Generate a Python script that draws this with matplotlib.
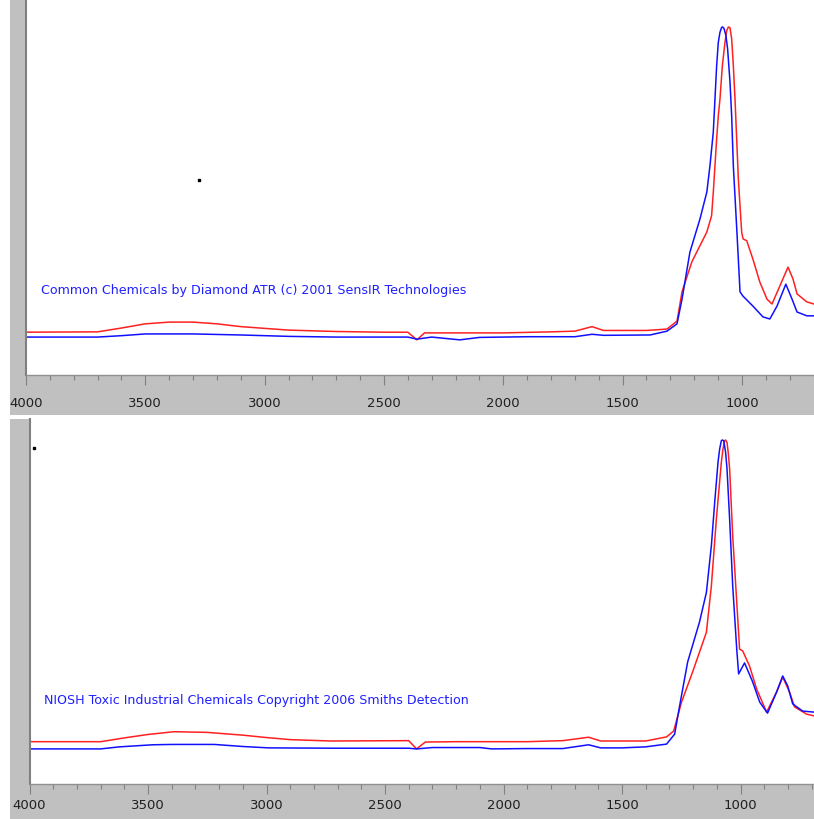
import matplotlib
matplotlib.use("Agg")
import matplotlib.pyplot as plt
from matplotlib.patches import Rectangle
from matplotlib.ticker import MultipleLocator

# ---------------- data ----------------
# Panel 1 (Common Chemicals by Diamond ATR)
p1_blue_wn = [4000, 3700, 3600, 3500, 3300, 3100, 2900, 2700, 2500, 2400, 2362, 2300, 2182, 2100,
              1900, 1700, 1628, 1580, 1385, 1314, 1272, 1251, 1218, 1176, 1147, 1134, 1120, 1113, 1106,
              1099, 1092, 1085, 1081, 1075, 1067, 1060, 1050, 1043, 1036, 1021, 1008, 996, 954, 912,
              883, 853, 816, 790, 769, 728, 698]
p1_blue_abs = [0.109, 0.109, 0.113, 0.118, 0.118, 0.115, 0.111, 0.109, 0.109, 0.109, 0.103, 0.109, 0.101, 0.108,
               0.110, 0.110, 0.117, 0.114, 0.115, 0.126, 0.147, 0.218, 0.353, 0.448, 0.526, 0.601, 0.698, 0.793, 0.888,
               0.956, 0.985, 0.999, 1.000, 0.996, 0.975, 0.937, 0.842, 0.744, 0.601, 0.411, 0.239, 0.227, 0.198, 0.167,
               0.161, 0.198, 0.261, 0.218, 0.181, 0.170, 0.170]

p1_red_wn = [4000, 3700, 3600, 3500, 3400, 3300, 3200, 3100, 3000, 2900, 2700, 2500, 2400, 2362, 2330,
             2200, 2000, 1800, 1700, 1628, 1580, 1400, 1314, 1272, 1251, 1210, 1147, 1127, 1120, 1113,
             1106, 1099, 1092, 1082, 1071, 1064, 1057, 1050, 1043, 1036, 1029, 1022, 1015, 1008, 1001,
             995, 980, 954, 925, 895, 874, 841, 807, 786, 769, 728, 698]
p1_red_abs = [0.123, 0.124, 0.135, 0.147, 0.152, 0.152, 0.147, 0.139, 0.134, 0.129, 0.125, 0.123, 0.123, 0.101, 0.121,
              0.121, 0.121, 0.124, 0.126, 0.139, 0.128, 0.128, 0.132, 0.155, 0.239, 0.325, 0.411, 0.458, 0.525, 0.601,
              0.678, 0.745, 0.793, 0.889, 0.956, 0.989, 1.000, 0.998, 0.966, 0.889, 0.793, 0.678, 0.563, 0.486, 0.410,
              0.391, 0.386, 0.333, 0.267, 0.218, 0.204, 0.256, 0.310, 0.276, 0.233, 0.210, 0.204]

# Panel 2 (NIOSH Toxic Industrial Chemicals)
p2_blue_wn = [4000, 3700, 3620, 3480, 3400, 3220, 3100, 2990, 2700, 2400, 2367, 2300, 2100, 2050, 1900,
              1750, 1641, 1590, 1500, 1400, 1312, 1278, 1257, 1223, 1173, 1144, 1123, 1109, 1095, 1088,
              1081, 1077, 1071, 1063, 1057, 1046, 1033, 1016, 1008, 983, 949, 919, 886, 848, 822, 801,
              780, 738, 690]
p2_blue_abs = [0.102, 0.102, 0.108, 0.114, 0.115, 0.115, 0.109, 0.105, 0.104, 0.104, 0.102, 0.106, 0.106, 0.102, 0.103,
               0.103, 0.114, 0.105, 0.105, 0.108, 0.116, 0.145, 0.227, 0.355, 0.471, 0.557, 0.693, 0.819, 0.935, 0.974,
               0.998, 1.000, 0.998, 0.964, 0.916, 0.770, 0.576, 0.392, 0.320, 0.352, 0.297, 0.238, 0.206, 0.267, 0.314, 0.285,
               0.233, 0.212, 0.209]

p2_red_wn = [4000, 3700, 3600, 3500, 3390, 3250, 3100, 3000, 2900, 2730, 2400, 2367, 2330, 2200, 1900,
             1750, 1641, 1590, 1400, 1312, 1282, 1249, 1202, 1144, 1123, 1102, 1081, 1074, 1067, 1063,
             1057, 1052, 1046, 1033, 1016, 1004, 991, 962, 932, 890, 848, 822, 793, 772, 721, 690]
p2_red_abs = [0.123, 0.123, 0.134, 0.144, 0.152, 0.150, 0.142, 0.135, 0.129, 0.125, 0.126, 0.102, 0.122, 0.123, 0.123,
              0.126, 0.136, 0.125, 0.125, 0.137, 0.154, 0.238, 0.326, 0.441, 0.576, 0.770, 0.935, 0.974, 0.998, 1.000,
              0.993, 0.964, 0.916, 0.721, 0.529, 0.392, 0.387, 0.343, 0.276, 0.209, 0.267, 0.311, 0.267, 0.224, 0.203, 0.198]

# stray dots (wavenumber, absorbance)
p1_dot = (3275, 0.560)
p2_dot = (3979, 0.977)

captions = ["Common Chemicals by Diamond ATR (c) 2001 SensIR Technologies",
            "NIOSH Toxic Industrial Chemicals Copyright 2006 Smiths Detection"]
tick_values = [4000, 3500, 3000, 2500, 2000, 1500, 1000]

# ---------------- layout ----------------
W, H = 814, 820
GRAY = "#c0c0c0"
fig = plt.figure(figsize=(W / 100, H / 100), dpi=100)
fig.patch.set_facecolor("white")


def px_rect(x0, y0, x1, y1):
    """pixel box (top-left origin) -> figure fraction [l, b, w, h]"""
    return [x0 / W, 1 - y1 / H, (x1 - x0) / W, (y1 - y0) / H]


def add_gray(x0, y0, x1, y1):
    l, b, w, h = px_rect(x0, y0, x1, y1)
    fig.add_artist(Rectangle((l, b), w, h, transform=fig.transFigure,
                             facecolor=GRAY, edgecolor="none", zorder=0))


# gray frames
add_gray(10, 0, 814, 416)
add_gray(10, 420, 814, 820)

panels = [
    dict(box=(26, 0, 814, 376), xlim=(4000, 698), ylim=(0, 376 / 348),
         red=(p1_red_wn, p1_red_abs), blue=(p1_blue_wn, p1_blue_abs), dot=p1_dot,
         cap=captions[0], cap_pos=(0.019, 0.227), pad=8.0),
    dict(box=(29.5, 420, 814, 785), xlim=(4000, 690), ylim=(0, 365 / 344),
         red=(p2_red_wn, p2_red_abs), blue=(p2_blue_wn, p2_blue_abs), dot=p2_dot,
         cap=captions[1], cap_pos=(0.0185, 0.231), pad=3.0),
]

for p in panels:
    ax = fig.add_axes(px_rect(*p["box"]))
    ax.set_facecolor("white")
    ax.plot(p["red"][0], p["red"][1], color="#ff2020", lw=1.1, solid_joinstyle="round")
    ax.plot(p["blue"][0], p["blue"][1], color="#1010ff", lw=1.1, solid_joinstyle="round")
    ax.plot([p["dot"][0]], [p["dot"][1]], marker="s", ms=1.6, color="black", lw=0)
    ax.set_xlim(*p["xlim"])
    ax.set_ylim(*p["ylim"])
    ax.set_xticks(tick_values)
    ax.set_xticklabels([str(v) for v in tick_values])
    ax.xaxis.set_minor_locator(MultipleLocator(100))
    ax.set_yticks([])
    for s in ["top", "right"]:
        ax.spines[s].set_visible(False)
    ax.spines["left"].set_color("#808080")
    ax.spines["left"].set_linewidth(1.5)
    ax.spines["bottom"].set_color("#909090")
    ax.spines["bottom"].set_linewidth(1.0)
    ax.tick_params(axis="x", which="major", length=7.2, width=0.8, color="#808080",
                   pad=p["pad"], labelsize=9.5, labelcolor="#202020")
    ax.tick_params(axis="x", which="minor", length=3.6, width=0.8, color="#808080")
    ax.text(p["cap_pos"][0], p["cap_pos"][1], p["cap"], transform=ax.transAxes,
            color="#2020ff", fontsize=9.1, family="DejaVu Sans", va="center", ha="left")

fig.savefig("out.png", dpi=100, facecolor="white")
